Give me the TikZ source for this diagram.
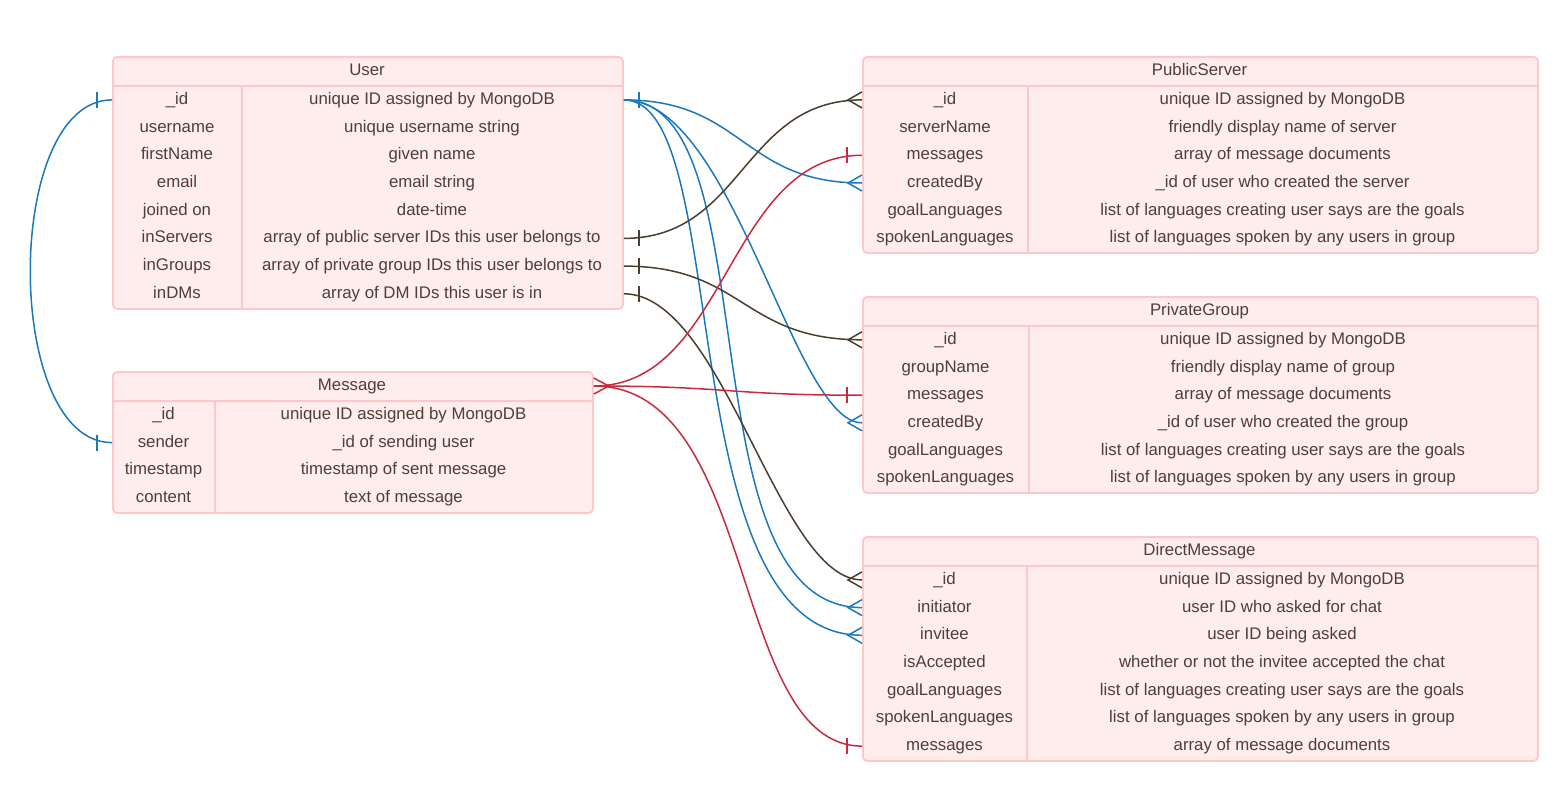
\documentclass[tikz,border=0pt]{standalone}
\usepackage{fontspec}
\setmainfont{Liberation Sans}
\definecolor{tblfill}{HTML}{FFEDED}
\definecolor{tblline}{HTML}{FFC8C8}
\definecolor{txtcol}{HTML}{4D4036}
\definecolor{cblue}{HTML}{1A78BE}
\definecolor{cred}{HTML}{C92A3D}
\definecolor{cbrown}{HTML}{4B3E2E}
\begin{document}
\begin{tikzpicture}[x=1pt,y=-1pt,
 tbl/.style={draw=tblline, fill=tblfill, line width=1.8pt, rounded corners=4pt, inner sep=0pt, anchor=north west},
 sep/.style={draw=tblline, line width=1.8pt},
 txt/.style={text=txtcol, font=\fontsize{16.8}{20}\selectfont, inner sep=0pt, text height=12.5pt, text depth=3.5pt},
 conn/.style={line width=1.5pt},
 bl/.style={conn, draw=cblue},
 br/.style={conn, draw=cbrown},
 rd/.style={conn, draw=cred},
 onebar/.pic={\draw[pic actions] (0,-8) -- (0,8);},
 crowL/.pic={\draw[pic actions] (0,-8) -- (-14,0) -- (0,8);},
 crowR/.pic={\draw[pic actions] (0,-8) -- (15,0) -- (0,8);},
]
\useasboundingbox (0,0) rectangle (1565,792);

% ---------- User ----------
\node[tbl, minimum width=510pt, minimum height=252pt] (user) at (112,56) {};
\draw[sep] (112,86) -- (622,86);
\draw[sep] (242,86) -- (242,308);
\node[txt] (u-h) at (367,71) {User};
\node[txt] (u-id) at (177,99.9) {\_id};
\node[txt] (u-id-d) at (432,99.9) {unique ID assigned by MongoDB};
\node[txt] (u-username) at (177,127.6) {username};
\node[txt] (u-username-d) at (432,127.6) {unique username string};
\node[txt] (u-firstname) at (177,155.3) {firstName};
\node[txt] (u-firstname-d) at (432,155.3) {given name};
\node[txt] (u-email) at (177,183.0) {email};
\node[txt] (u-email-d) at (432,183.0) {email string};
\node[txt] (u-joined) at (177,210.7) {joined on};
\node[txt] (u-joined-d) at (432,210.7) {date-time};
\node[txt] (u-inservers) at (177,238.4) {inServers};
\node[txt] (u-inservers-d) at (432,238.4) {array of public server IDs this user belongs to};
\node[txt] (u-ingroups) at (177,266.1) {inGroups};
\node[txt] (u-ingroups-d) at (432,266.1) {array of private group IDs this user belongs to};
\node[txt] (u-indms) at (177,293.8) {inDMs};
\node[txt] (u-indms-d) at (432,293.8) {array of DM IDs this user is in};

% ---------- Message ----------
\node[tbl, minimum width=480pt, minimum height=141pt] (msg) at (112,371) {};
\draw[sep] (112,401) -- (592,401);
\draw[sep] (215,401) -- (215,512);
\node[txt] (m-h) at (352,386) {Message};
\node[txt] (m-id) at (163.5,414.9) {\_id};
\node[txt] (m-id-d) at (403.5,414.9) {unique ID assigned by MongoDB};
\node[txt] (m-sender) at (163.5,442.6) {sender};
\node[txt] (m-sender-d) at (403.5,442.6) {\_id of sending user};
\node[txt] (m-timestamp) at (163.5,470.4) {timestamp};
\node[txt] (m-timestamp-d) at (403.5,470.4) {timestamp of sent message};
\node[txt] (m-content) at (163.5,498.1) {content};
\node[txt] (m-content-d) at (403.5,498.1) {text of message};

% ---------- PublicServer ----------
\node[tbl, minimum width=675pt, minimum height=196pt] (pubsrv) at (862,56) {};
\draw[sep] (862,86) -- (1537,86);
\draw[sep] (1028,86) -- (1028,252);
\node[txt] (ps-h) at (1199.5,71) {PublicServer};
\node[txt] (ps-id) at (945,99.9) {\_id};
\node[txt] (ps-id-d) at (1282.5,99.9) {unique ID assigned by MongoDB};
\node[txt] (ps-name) at (945,127.6) {serverName};
\node[txt] (ps-name-d) at (1282.5,127.6) {friendly display name of server};
\node[txt] (ps-messages) at (945,155.3) {messages};
\node[txt] (ps-messages-d) at (1282.5,155.3) {array of message documents};
\node[txt] (ps-createdby) at (945,183.0) {createdBy};
\node[txt] (ps-createdby-d) at (1282.5,183.0) {\_id of user who created the server};
\node[txt] (ps-goal) at (945,210.7) {goalLanguages};
\node[txt] (ps-goal-d) at (1282.5,210.7) {list of languages creating user says are the goals};
\node[txt] (ps-spoken) at (945,238.4) {spokenLanguages};
\node[txt] (ps-spoken-d) at (1282.5,238.4) {list of languages spoken by any users in group};

% ---------- PrivateGroup ----------
\node[tbl, minimum width=675pt, minimum height=196pt] (privgrp) at (862,296) {};
\draw[sep] (862,326) -- (1537,326);
\draw[sep] (1029,326) -- (1029,492);
\node[txt] (pg-h) at (1199.5,311) {PrivateGroup};
\node[txt] (pg-id) at (945.5,339.8) {\_id};
\node[txt] (pg-id-d) at (1283,339.8) {unique ID assigned by MongoDB};
\node[txt] (pg-name) at (945.5,367.5) {groupName};
\node[txt] (pg-name-d) at (1283,367.5) {friendly display name of group};
\node[txt] (pg-messages) at (945.5,395.2) {messages};
\node[txt] (pg-messages-d) at (1283,395.2) {array of message documents};
\node[txt] (pg-createdby) at (945.5,422.8) {createdBy};
\node[txt] (pg-createdby-d) at (1283,422.8) {\_id of user who created the group};
\node[txt] (pg-goal) at (945.5,450.5) {goalLanguages};
\node[txt] (pg-goal-d) at (1283,450.5) {list of languages creating user says are the goals};
\node[txt] (pg-spoken) at (945.5,478.2) {spokenLanguages};
\node[txt] (pg-spoken-d) at (1283,478.2) {list of languages spoken by any users in group};

% ---------- DirectMessage ----------
\node[tbl, minimum width=675pt, minimum height=224pt] (dm) at (862,536) {};
\draw[sep] (862,566) -- (1537,566);
\draw[sep] (1027,566) -- (1027,760);
\node[txt] (dm-h) at (1199.5,551) {DirectMessage};
\node[txt] (dm-id) at (944.5,579.9) {\_id};
\node[txt] (dm-id-d) at (1282,579.9) {unique ID assigned by MongoDB};
\node[txt] (dm-initiator) at (944.5,607.6) {initiator};
\node[txt] (dm-initiator-d) at (1282,607.6) {user ID who asked for chat};
\node[txt] (dm-invitee) at (944.5,635.3) {invitee};
\node[txt] (dm-invitee-d) at (1282,635.3) {user ID being asked};
\node[txt] (dm-accepted) at (944.5,663.0) {isAccepted};
\node[txt] (dm-accepted-d) at (1282,663.0) {whether or not the invitee accepted the chat};
\node[txt] (dm-goal) at (944.5,690.7) {goalLanguages};
\node[txt] (dm-goal-d) at (1282,690.7) {list of languages creating user says are the goals};
\node[txt] (dm-spoken) at (944.5,718.4) {spokenLanguages};
\node[txt] (dm-spoken-d) at (1282,718.4) {list of languages spoken by any users in group};
\node[txt] (dm-messages) at (944.5,746.1) {messages};
\node[txt] (dm-messages-d) at (1282,746.1) {array of message documents};

% ---------- connectors ----------
% User._id -- Message.sender
\draw[bl] (u-id -| user.west) .. controls +(-109,0) and +(-109,0) .. (m-sender -| msg.west);
\pic[bl] at ([xshift=-15pt]u-id -| user.west) {onebar};
\pic[bl] at ([xshift=-15pt]m-sender -| msg.west) {onebar};

% User._id -> createdBy / initiator / invitee
\draw[bl] (u-id -| user.east) .. controls +(120,0) and +(-120,0) .. (ps-createdby -| pubsrv.west);
\draw[bl] (u-id -| user.east) .. controls +(110,0) and +(-69,0) .. (pg-createdby -| privgrp.west);
\draw[bl] (u-id -| user.east) .. controls +(149,0) and +(-181,0) .. (dm-initiator -| dm.west);
\draw[bl] (u-id -| user.east) .. controls +(111,0) and +(-194,0) .. (dm-invitee -| dm.west);
\pic[bl] at ([xshift=15pt]u-id -| user.east) {onebar};
\pic[bl] at (ps-createdby -| pubsrv.west) {crowL};
\pic[bl] at (pg-createdby -| privgrp.west) {crowL};
\pic[bl] at (dm-initiator -| dm.west) {crowL};
\pic[bl] at (dm-invitee -| dm.west) {crowL};

% User membership arrays
\draw[br] (u-inservers -| user.east) .. controls +(120,0) and +(-120,0) .. (ps-id -| pubsrv.west);
\draw[br] (u-ingroups -| user.east) .. controls +(120,0) and +(-120,0) .. (pg-id -| privgrp.west);
\draw[br] (u-indms -| user.east) .. controls +(100,0) and +(-84,0) .. (dm-id -| dm.west);
\pic[br] at ([xshift=15pt]u-inservers -| user.east) {onebar};
\pic[br] at ([xshift=15pt]u-ingroups -| user.east) {onebar};
\pic[br] at ([xshift=15pt]u-indms -| user.east) {onebar};
\pic[br] at (ps-id -| pubsrv.west) {crowL};
\pic[br] at (pg-id -| privgrp.west) {crowL};
\pic[br] at (dm-id -| dm.west) {crowL};

% Message -> messages arrays
\draw[rd] (m-h -| msg.east) .. controls +(134,0) and +(-135,0) .. (ps-messages -| pubsrv.west);
\draw[rd] (m-h -| msg.east) .. controls +(134,0) and +(-134,0) .. (pg-messages -| privgrp.west);
\draw[rd] (m-h -| msg.east) .. controls +(165,0) and +(-133,0) .. (dm-messages -| dm.west);
\pic[rd] at (m-h -| msg.east) {crowR};
\pic[rd] at ([xshift=-15pt]ps-messages -| pubsrv.west) {onebar};
\pic[rd] at ([xshift=-15pt]pg-messages -| privgrp.west) {onebar};
\pic[rd] at ([xshift=-15pt]dm-messages -| dm.west) {onebar};
\end{tikzpicture}
\end{document}
